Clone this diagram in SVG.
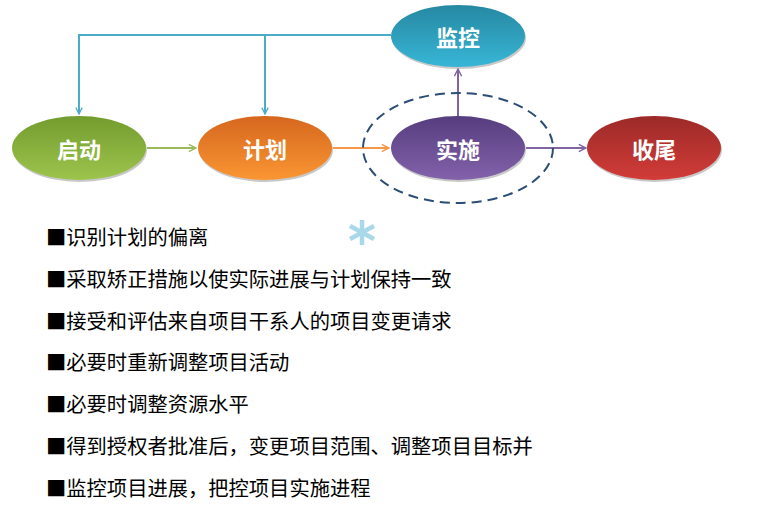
<svg xmlns="http://www.w3.org/2000/svg" width="760" height="511" viewBox="0 0 760 511">
<defs>
<linearGradient id="gGreen" x1="0" y1="0" x2="0" y2="1"><stop offset="0" stop-color="#739c2f"/><stop offset="1" stop-color="#9dc44c"/></linearGradient>
<linearGradient id="gOrange" x1="0" y1="0" x2="0" y2="1"><stop offset="0" stop-color="#d5671e"/><stop offset="1" stop-color="#fa9633"/></linearGradient>
<linearGradient id="gPurple" x1="0" y1="0" x2="0" y2="1"><stop offset="0" stop-color="#563d7e"/><stop offset="1" stop-color="#8362ab"/></linearGradient>
<linearGradient id="gRed" x1="0" y1="0" x2="0" y2="1"><stop offset="0" stop-color="#9c2a28"/><stop offset="1" stop-color="#d23c38"/></linearGradient>
<linearGradient id="gBlue" x1="0" y1="0" x2="0" y2="1"><stop offset="0" stop-color="#2688a2"/><stop offset="1" stop-color="#38b6d6"/></linearGradient>
<marker id="aBlue" viewBox="0 0 10 10" refX="9" refY="5" markerWidth="8" markerHeight="8" orient="auto" markerUnits="userSpaceOnUse"><path d="M1,1 L9,5 L1,9" fill="none" stroke="#4bacc6" stroke-width="1.6"/></marker>
<marker id="aGreen" viewBox="0 0 10 10" refX="9" refY="5" markerWidth="9" markerHeight="9" orient="auto" markerUnits="userSpaceOnUse"><path d="M1,1 L9,5 L1,9" fill="none" stroke="#9bbb59" stroke-width="1.6"/></marker>
<marker id="aOrange" viewBox="0 0 10 10" refX="9" refY="5" markerWidth="9" markerHeight="9" orient="auto" markerUnits="userSpaceOnUse"><path d="M1,1 L9,5 L1,9" fill="none" stroke="#f79646" stroke-width="1.6"/></marker>
<marker id="aPurple" viewBox="0 0 10 10" refX="9" refY="5" markerWidth="9" markerHeight="9" orient="auto" markerUnits="userSpaceOnUse"><path d="M1,1 L9,5 L1,9" fill="none" stroke="#8064a2" stroke-width="1.6"/></marker>
</defs>
<style>
.lbl{font-family:"Noto Sans CJK SC",sans-serif;font-size:22px;font-weight:bold;fill:#ffffff;text-anchor:middle;dominant-baseline:central}
.item{font-family:"Noto Sans CJK SC",sans-serif;font-size:20.3px;fill:#000000;dominant-baseline:central}
.shadow{fill:#9a9a9a;opacity:0.55}
</style>
<rect width="760" height="511" fill="#ffffff"/>
<g id="connectors" fill="none" stroke-width="2">
<path d="M391,35 H79 V114" stroke="#4bacc6" marker-end="url(#aBlue)"/>
<path d="M265,36 V114" stroke="#4bacc6" marker-end="url(#aBlue)"/>
<path d="M147,148 H196" stroke="#9bbb59" marker-end="url(#aGreen)"/>
<path d="M333,148 H389" stroke="#f79646" marker-end="url(#aOrange)"/>
<path d="M526,148 H586" stroke="#8064a2" marker-end="url(#aPurple)"/>
<path d="M458,116 V69" stroke="#8064a2" marker-end="url(#aPurple)"/>
</g>
<g id="boundary"><ellipse cx="458" cy="148" rx="95" ry="55" fill="none" stroke="#2c4d75" stroke-width="2" stroke-dasharray="10,6"/></g>
<g id="node-qidong"><ellipse class="shadow" cx="80" cy="150" rx="67" ry="32"/><ellipse cx="79" cy="148" rx="67" ry="32" fill="url(#gGreen)"/><text class="lbl" x="79" y="148">启动</text></g>
<g id="node-jihua"><ellipse class="shadow" cx="266" cy="150" rx="67" ry="32"/><ellipse cx="265" cy="148" rx="67" ry="32" fill="url(#gOrange)"/><text class="lbl" x="265" y="148">计划</text></g>
<g id="node-shishi"><ellipse class="shadow" cx="459" cy="150" rx="67" ry="32"/><ellipse cx="458" cy="148" rx="67" ry="32" fill="url(#gPurple)"/><text class="lbl" x="458" y="148">实施</text></g>
<g id="node-shouwei"><ellipse class="shadow" cx="655" cy="150" rx="67" ry="32"/><ellipse cx="654" cy="148" rx="67" ry="32" fill="url(#gRed)"/><text class="lbl" x="654" y="148">收尾</text></g>
<g id="node-jiankong"><ellipse class="shadow" cx="459" cy="38" rx="67" ry="31"/><ellipse cx="458" cy="36" rx="67" ry="31" fill="url(#gBlue)"/><text class="lbl" x="458" y="36">监控</text></g>
<g id="star" stroke="#a9d8e8" stroke-width="4.5" stroke-linecap="butt">
<path d="M362,220 V245"/><path d="M350,226 L374,239"/><path d="M374,226 L350,239"/>
</g>
<g id="list">
<text class="item" x="46" y="236">■识别计划的偏离</text>
<text class="item" x="46" y="278">■采取矫正措施以使实际进展与计划保持一致</text>
<text class="item" x="46" y="320">■接受和评估来自项目干系人的项目变更请求</text>
<text class="item" x="46" y="361">■必要时重新调整项目活动</text>
<text class="item" x="46" y="403">■必要时调整资源水平</text>
<text class="item" x="46" y="445">■得到授权者批准后，变更项目范围、调整项目目标并</text>
<text class="item" x="46" y="487">■监控项目进展，把控项目实施进程</text>
</g>
</svg>
